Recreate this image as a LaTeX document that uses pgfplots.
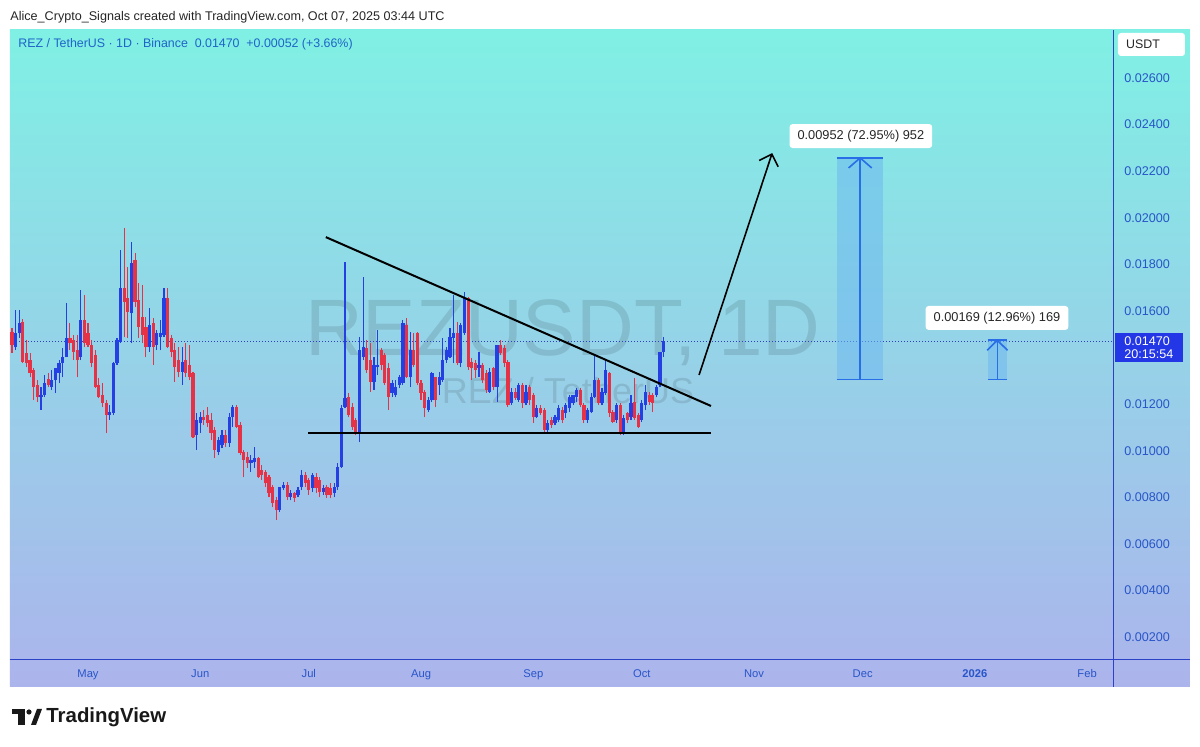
\documentclass[border=0pt]{standalone}
\usepackage{fontspec}
\setmainfont{Liberation Sans}
\usepackage{pgfplots}
\usepackage{pgfplotstable}
\pgfplotsset{compat=1.18}
\usetikzlibrary{arrows.meta}
\definecolor{upc}{RGB}{36,64,226}
\definecolor{dnc}{RGB}{230,50,70}
\definecolor{bgtop}{RGB}{128,240,228}
\definecolor{bgmid}{RGB}{150,214,232}
\definecolor{bgbot}{RGB}{172,180,236}
\definecolor{axc}{RGB}{45,65,200}
\definecolor{tickc}{RGB}{40,85,200}
\definecolor{posline}{RGB}{40,110,230}
\definecolor{posfill}{RGB}{110,185,240}
\definecolor{hdrc}{RGB}{30,100,200}
\definecolor{pricebox}{RGB}{35,55,230}
\pgfplotstableread{
d o h l c
-21 0.01510 0.01527 0.01419 0.01454
-20 0.01445 0.01604 0.01432 0.01505
-19 0.01505 0.01604 0.01484 0.01548
-18 0.01553 0.01565 0.01376 0.01381
-17 0.01420 0.01475 0.01359 0.01376
-16 0.01389 0.01419 0.01316 0.01333
-15 0.01346 0.01355 0.01218 0.01273
-14 0.01282 0.01303 0.01209 0.01230
-13 0.01230 0.01273 0.01175 0.01239
-12 0.01239 0.01325 0.01230 0.01290
-11 0.01307 0.01333 0.01273 0.01282
-10 0.01273 0.01346 0.01260 0.01303
-9 0.01303 0.01355 0.01248 0.01355
-8 0.01333 0.01389 0.01290 0.01376
-7 0.01376 0.01441 0.01316 0.01402
-6 0.01402 0.01634 0.01402 0.01484
-5 0.01484 0.01548 0.01432 0.01462
-4 0.01475 0.01497 0.01389 0.01424
-3 0.01432 0.01497 0.01316 0.01389
-2 0.01402 0.01690 0.01389 0.01561
-1 0.01561 0.01668 0.01445 0.01462
0 0.01505 0.01548 0.01445 0.01454
1 0.01454 0.01475 0.01359 0.01376
2 0.01411 0.01432 0.01269 0.01273
3 0.01282 0.01312 0.01226 0.01230
4 0.01239 0.01290 0.01187 0.01205
5 0.01205 0.01218 0.01076 0.01153
6 0.01153 0.01196 0.01132 0.01166
7 0.01162 0.01381 0.01153 0.01376
8 0.01376 0.01484 0.01368 0.01475
9 0.01467 0.01862 0.01462 0.01699
10 0.01699 0.01956 0.01488 0.01638
11 0.01656 0.01789 0.01484 0.01595
12 0.01591 0.01896 0.01462 0.01806
13 0.01819 0.01849 0.01617 0.01638
14 0.01647 0.01720 0.01484 0.01531
15 0.01574 0.01711 0.01462 0.01497
16 0.01531 0.01574 0.01402 0.01445
17 0.01445 0.01613 0.01424 0.01540
18 0.01548 0.01570 0.01368 0.01445
19 0.01454 0.01518 0.01432 0.01505
20 0.01488 0.01561 0.01432 0.01505
21 0.01497 0.01699 0.01488 0.01656
22 0.01656 0.01699 0.01441 0.01445
23 0.01484 0.01497 0.01402 0.01424
24 0.01432 0.01462 0.01295 0.01359
25 0.01389 0.01445 0.01316 0.01338
26 0.01338 0.01445 0.01282 0.01381
27 0.01389 0.01462 0.01316 0.01333
28 0.01368 0.01454 0.01303 0.01316
29 0.01333 0.01338 0.01054 0.01059
30 0.01067 0.01162 0.01003 0.01132
31 0.01119 0.01166 0.01076 0.01144
32 0.01144 0.01175 0.01110 0.01132
33 0.01153 0.01187 0.01101 0.01119
34 0.01132 0.01162 0.01046 0.01076
35 0.01089 0.01101 0.00969 0.01003
36 0.00994 0.01059 0.00981 0.01046
37 0.01024 0.01089 0.01011 0.01067
38 0.01067 0.01089 0.01016 0.01033
39 0.01033 0.01162 0.01016 0.01144
40 0.01144 0.01196 0.01101 0.01187
41 0.01187 0.01196 0.01097 0.01101
42 0.01110 0.01123 0.00981 0.00990
43 0.00994 0.01003 0.00887 0.00960
44 0.00973 0.00994 0.00926 0.00947
45 0.00947 0.00981 0.00908 0.00960
46 0.00951 0.01016 0.00926 0.00969
47 0.00969 0.00973 0.00883 0.00887
48 0.00917 0.00939 0.00874 0.00896
49 0.00908 0.00917 0.00844 0.00861
50 0.00887 0.00896 0.00801 0.00818
51 0.00844 0.00853 0.00758 0.00775
52 0.00788 0.00801 0.00702 0.00745
53 0.00745 0.00844 0.00737 0.00844
54 0.00840 0.00866 0.00831 0.00853
55 0.00853 0.00866 0.00788 0.00801
56 0.00801 0.00831 0.00788 0.00818
57 0.00818 0.00823 0.00780 0.00797
58 0.00810 0.00844 0.00801 0.00831
59 0.00844 0.00917 0.00831 0.00896
60 0.00896 0.00908 0.00844 0.00861
61 0.00874 0.00883 0.00810 0.00831
62 0.00840 0.00904 0.00823 0.00896
63 0.00887 0.00904 0.00818 0.00840
64 0.00874 0.00887 0.00801 0.00823
65 0.00823 0.00853 0.00810 0.00840
66 0.00844 0.00853 0.00797 0.00810
67 0.00840 0.00861 0.00797 0.00810
68 0.00818 0.00861 0.00801 0.00844
69 0.00844 0.00947 0.00831 0.00930
70 0.00930 0.01196 0.00926 0.01183
71 0.01187 0.01810 0.01183 0.01226
72 0.01230 0.01248 0.01144 0.01153
73 0.01187 0.01205 0.01089 0.01101
74 0.01132 0.01140 0.01067 0.01080
75 0.01080 0.01488 0.01037 0.01432
76 0.01402 0.01746 0.01389 0.01445
77 0.01441 0.01475 0.01333 0.01346
78 0.01389 0.01462 0.01252 0.01295
79 0.01295 0.01402 0.01260 0.01368
80 0.01359 0.01518 0.01325 0.01368
81 0.01432 0.01441 0.01346 0.01368
82 0.01411 0.01419 0.01282 0.01290
83 0.01355 0.01376 0.01175 0.01230
84 0.01248 0.01303 0.01230 0.01290
85 0.01239 0.01303 0.01230 0.01273
86 0.01282 0.01325 0.01269 0.01316
87 0.01290 0.01561 0.01282 0.01548
88 0.01540 0.01570 0.01312 0.01316
89 0.01316 0.01510 0.01273 0.01432
90 0.01432 0.01505 0.01359 0.01368
91 0.01505 0.01510 0.01282 0.01290
92 0.01290 0.01303 0.01218 0.01248
93 0.01252 0.01260 0.01144 0.01183
94 0.01175 0.01230 0.01166 0.01218
95 0.01218 0.01338 0.01209 0.01333
96 0.01316 0.01316 0.01187 0.01218
97 0.01282 0.01338 0.01239 0.01316
98 0.01303 0.01484 0.01295 0.01389
99 0.01389 0.01445 0.01376 0.01432
100 0.01402 0.01527 0.01398 0.01488
101 0.01484 0.01668 0.01376 0.01505
102 0.01505 0.01553 0.01368 0.01376
103 0.01376 0.01548 0.01359 0.01540
104 0.01505 0.01681 0.01497 0.01656
105 0.01656 0.01660 0.01346 0.01359
106 0.01381 0.01398 0.01303 0.01355
107 0.01376 0.01389 0.01312 0.01346
108 0.01355 0.01424 0.01316 0.01368
109 0.01368 0.01376 0.01290 0.01303
110 0.01333 0.01346 0.01248 0.01260
111 0.01252 0.01355 0.01248 0.01338
112 0.01355 0.01359 0.01260 0.01273
113 0.01273 0.01454 0.01209 0.01454
114 0.01454 0.01475 0.01411 0.01419
115 0.01441 0.01454 0.01359 0.01376
116 0.01381 0.01389 0.01187 0.01196
117 0.01205 0.01269 0.01196 0.01252
118 0.01252 0.01269 0.01218 0.01226
119 0.01218 0.01290 0.01209 0.01282
120 0.01282 0.01290 0.01183 0.01205
121 0.01205 0.01282 0.01196 0.01252
122 0.01273 0.01282 0.01196 0.01218
123 0.01239 0.01248 0.01119 0.01144
124 0.01144 0.01196 0.01140 0.01183
125 0.01183 0.01196 0.01153 0.01162
126 0.01175 0.01183 0.01080 0.01089
127 0.01089 0.01132 0.01080 0.01119
128 0.01132 0.01144 0.01097 0.01110
129 0.01119 0.01153 0.01110 0.01144
130 0.01132 0.01196 0.01123 0.01183
131 0.01175 0.01187 0.01119 0.01132
132 0.01162 0.01205 0.01140 0.01196
133 0.01183 0.01239 0.01166 0.01230
134 0.01205 0.01239 0.01196 0.01239
135 0.01230 0.01269 0.01209 0.01260
136 0.01260 0.01269 0.01187 0.01196
137 0.01196 0.01205 0.01119 0.01132
138 0.01132 0.01183 0.01119 0.01175
139 0.01166 0.01248 0.01162 0.01230
140 0.01230 0.01411 0.01226 0.01303
141 0.01303 0.01312 0.01196 0.01205
142 0.01205 0.01269 0.01196 0.01252
143 0.01248 0.01389 0.01239 0.01346
144 0.01333 0.01338 0.01144 0.01162
145 0.01166 0.01175 0.01119 0.01123
146 0.01132 0.01205 0.01119 0.01196
147 0.01196 0.01205 0.01067 0.01076
148 0.01076 0.01153 0.01067 0.01140
149 0.01162 0.01166 0.01119 0.01132
150 0.01144 0.01239 0.01132 0.01205
151 0.01209 0.01312 0.01132 0.01140
152 0.01153 0.01162 0.01097 0.01101
153 0.01132 0.01218 0.01123 0.01205
154 0.01196 0.01282 0.01175 0.01252
155 0.01239 0.01252 0.01196 0.01209
156 0.01239 0.01248 0.01166 0.01205
157 0.01239 0.01282 0.01230 0.01273
158 0.01282 0.01424 0.01273 0.01424
159 0.01424 0.01488 0.01402 0.01470
}\candles
\begin{document}
\begin{tikzpicture}
\useasboundingbox (0,0) rectangle (600bp,-373.5bp);
\begin{scope}[x=0.5bp,y=-0.5bp]
\fill[white] (0,0) rectangle (1200,747);
\shade[top color=bgtop, middle color=bgmid, bottom color=bgbot] (10,30) rectangle (1190,687);
\node[anchor=west, text=black!85, font=\fontsize{6.3bp}{7bp}\selectfont, inner sep=0] at (10,17) {Alice\_Crypto\_Signals created with TradingView.com, Oct 07, 2025 03:44 UTC};
\node[anchor=west, text=hdrc, font=\fontsize{6.2bp}{7bp}\selectfont, inner sep=0] at (18,44) {REZ / TetherUS · 1D · Binance\ \ 0.01470\ \ +0.00052 (+3.66\%)};
\node[text=black, opacity=0.11, font=\fontsize{40bp}{40bp}\selectfont, inner sep=0] at (563,333) {REZUSDT, 1D};
\node[text=black, opacity=0.11, font=\fontsize{18bp}{18bp}\selectfont, inner sep=0] at (568,391) {REZ / TetherUS};
\end{scope}
\begin{axis}[at={(5bp,-330bp)}, anchor=south west, scale only axis,
  width=551.5bp, height=315bp,
  xmin=-21.55, xmax=283.15, ymin=0.0010125, ymax=0.028063,
  axis line style={draw=none}, major tick length=0pt, major tick style={draw=none},
  ytick={0.002,0.004,0.006,0.008,0.010,0.012,0.016,0.018,0.020,0.022,0.024,0.026},
  yticklabel pos=right, scaled y ticks=false,
  yticklabel style={/pgf/number format/fixed, /pgf/number format/fixed zerofill,
    /pgf/number format/precision=5, /pgf/number format/assume math mode=true,
    anchor=west, inner sep=0pt, xshift=5.5bp, text=tickc, font=\fontsize{6.3bp}{7bp}\selectfont},
  xtick={0,31,61,92,123,153,184,214,245,276},
  xticklabels={May,Jun,Jul,Aug,Sep,Oct,Nov,Dec,\textbf{2026},Feb},
  xticklabel style={anchor=north, inner sep=0pt, yshift=-4.5bp, text=tickc, font=\fontsize{5.6bp}{6bp}\selectfont},
]
% current price dotted line
\addplot[axc, line width=0.5bp, dash pattern=on 0.5bp off 1bp, forget plot] coordinates {(-21.55,0.0147) (283.15,0.0147)};
% wicks
\addplot[draw=none, mark=none, forget plot,
  restrict expr to domain={\thisrow{c}-\thisrow{o}}{0:1},
  error bars/.cd, y dir=plus, y explicit, error mark=none,
  error bar style={line width=0.55bp, draw=upc}]
  table[x=d, y=l, y error expr=\thisrow{h}-\thisrow{l}] {\candles};
\addplot[draw=none, mark=none, forget plot,
  restrict expr to domain={\thisrow{c}-\thisrow{o}}{-1:0},
  error bars/.cd, y dir=plus, y explicit, error mark=none,
  error bar style={line width=0.55bp, draw=dnc}]
  table[x=d, y=l, y error expr=\thisrow{h}-\thisrow{l}] {\candles};
% bodies
\addplot[draw=none, mark=none, forget plot,
  restrict expr to domain={\thisrow{c}-\thisrow{o}}{0:1},
  error bars/.cd, y dir=plus, y explicit, error mark=none,
  error bar style={line width=1.6bp, draw=upc}]
  table[x=d, y=o, y error expr=\thisrow{c}-\thisrow{o}] {\candles};
\addplot[draw=none, mark=none, forget plot,
  restrict expr to domain={\thisrow{c}-\thisrow{o}}{-1:0},
  error bars/.cd, y dir=plus, y explicit, error mark=none,
  error bar style={line width=1.6bp, draw=dnc}]
  table[x=d, y=c, y error expr=\thisrow{o}-\thisrow{c}] {\candles};
% triangle
\addplot[black, line width=1bp] coordinates {(65.7,0.01917) (172.1,0.01192)};
\addplot[black, line width=1bp] coordinates {(60.8,0.01076) (172.1,0.01076)};
% arrow
\addplot[black, line width=0.8bp, -{Straight Barb[length=5bp, width=10bp]}] coordinates {(168.8,0.01325) (189.0,0.02278)};
% position boxes
\addplot[fill=posfill, fill opacity=0.55, draw=none] coordinates {(206.9,0.01305) (219.6,0.01305) (219.6,0.02257) (206.9,0.02257)} -- cycle;
\addplot[posline, line width=0.8bp] coordinates {(206.9,0.02257) (219.6,0.02257)};
\addplot[posline, line width=0.8bp] coordinates {(206.9,0.01305) (219.6,0.01305)};
\addplot[posline, line width=0.8bp] coordinates {(213.3,0.01305) (213.3,0.02257)};
\addplot[posline, line width=0.8bp] coordinates {(210.1,0.02214) (213.3,0.02257) (216.5,0.02214)};
\addplot[fill=posfill, fill opacity=0.55, draw=none] coordinates {(248.6,0.01305) (253.9,0.01305) (253.9,0.01474) (248.6,0.01474)} -- cycle;
\addplot[posline, line width=0.8bp] coordinates {(248.6,0.01474) (253.9,0.01474)};
\addplot[posline, line width=0.8bp] coordinates {(248.6,0.01305) (253.9,0.01305)};
\addplot[posline, line width=0.8bp] coordinates {(251.2,0.01305) (251.2,0.01474)};
\addplot[posline, line width=0.8bp] coordinates {(248.4,0.01431) (251.2,0.01474) (254.0,0.01431)};
\node[fill=white, rounded corners=1.5bp, inner xsep=4bp, inner ysep=3bp, text=black!85, font=\fontsize{6.4bp}{7bp}\selectfont] at (axis cs:213.5,0.02351) {0.00952 (72.95\%) 952};
\node[fill=white, rounded corners=1.5bp, inner xsep=4bp, inner ysep=3bp, text=black!85, font=\fontsize{6.4bp}{7bp}\selectfont] at (axis cs:251.1,0.01570) {0.00169 (12.96\%) 169};
\end{axis}
\begin{scope}[x=0.5bp,y=-0.5bp]
\draw[axc, line width=0.5bp] (1114,30) -- (1114,687);
\draw[axc, line width=0.5bp] (10,660) -- (1190,660);
\fill[white, rounded corners=1.5bp] (1118,33) rectangle (1185,56);
\node[text=black!85, font=\fontsize{6.2bp}{7bp}\selectfont, inner sep=0] at (1143,44.5) {USDT};
\fill[pricebox] (1115,333) rectangle (1183,362);
\node[anchor=west, text=white, font=\fontsize{6.3bp}{7bp}\selectfont, inner sep=0] at (1124,341) {0.01470};
\node[anchor=west, text=white, font=\fontsize{6.3bp}{7bp}\selectfont, inner sep=0] at (1124,354) {20:15:54};
% TradingView logo
\fill[black!90] (12,709) rectangle (25,714);
\fill[black!90] (18,709) rectangle (25,725);
\fill[black!90] (29,712) circle (2.6);
\fill[black!90] (31,725) -- (37,709) -- (42,709) -- (36,725) -- cycle;
\node[anchor=west, text=black!90, font=\fontsize{10.2bp}{11bp}\selectfont\bfseries, inner sep=0] at (46,717) {TradingView};
\end{scope}
\end{tikzpicture}
\end{document}
